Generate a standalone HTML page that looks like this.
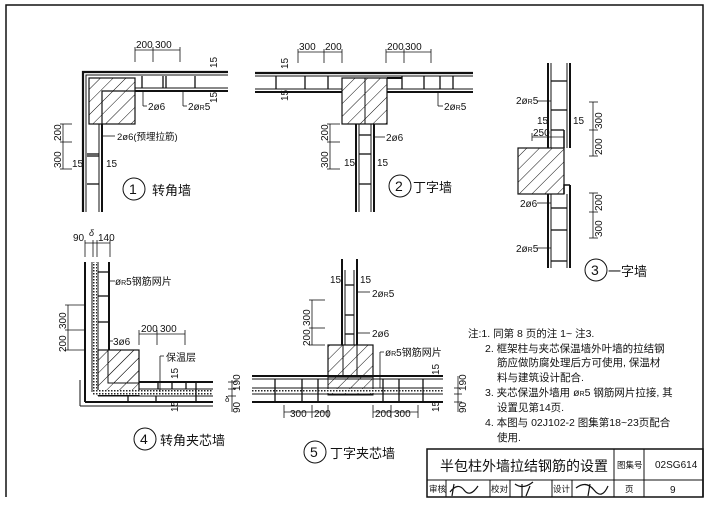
<!DOCTYPE html>
<html><head><meta charset="utf-8"><style>
html,body{margin:0;padding:0;background:#fff}
svg{display:block}
text{font-family:"Liberation Sans","Noto Sans CJK SC",sans-serif;fill:#111}
</style></head><body>
<svg width="712" height="505" viewBox="0 0 712 505" xmlns="http://www.w3.org/2000/svg">
<defs>
<pattern id="h" width="9" height="9" patternUnits="userSpaceOnUse" patternTransform="rotate(45)">
<line x1="0" y1="0" x2="0" y2="9" stroke="#111" stroke-width="1"/></pattern>
<pattern id="ins" width="3" height="3" patternUnits="userSpaceOnUse"><rect width="3" height="3" fill="#fff"/><rect width="1.5" height="1.5" fill="#222"/></pattern>
</defs>
<rect x="0" y="0" width="712" height="505" fill="#fff"/>
<g fill="none" stroke="#111" stroke-width="1">
<polyline points="6,497 6,5 703,5 703,497" stroke-width="1.5"/>
</g>

<!-- ===== Diagram 1 ===== -->
<g stroke="#111" fill="none">
<rect x="89" y="78" width="46" height="46" fill="url(#h)"/>
<rect x="89" y="78" width="46" height="46" stroke-width="1.2"/>
<path d="M102,124 V91 H135" stroke-width="1.2"/>
<path d="M83,212 V72 H228" stroke-width="2.2"/>
<path d="M86,212 V75 H228" stroke-width="1"/>
<path d="M135,91 H228" stroke-width="2"/>
<path d="M102,124 V212" stroke-width="2"/>
<path d="M99,124 V212" stroke-width="1"/>
<path d="M135,88 H228" stroke-width="1"/>
<g stroke-width="1.3">
<line x1="142" y1="76" x2="142" y2="88"/><line x1="163" y1="76" x2="163" y2="88"/><line x1="166" y1="76" x2="166" y2="88"/><line x1="195" y1="76" x2="195" y2="88"/>
<line x1="87" y1="154" x2="99" y2="154"/><line x1="87" y1="156" x2="99" y2="156"/><line x1="87" y1="184" x2="99" y2="184"/>
</g>
<g stroke-width="0.8">
<line x1="135" y1="50" x2="180" y2="50"/><line x1="135" y1="47" x2="135" y2="62"/><line x1="153" y1="47" x2="153" y2="62"/><line x1="180" y1="47" x2="180" y2="62"/>
<line x1="63" y1="124" x2="63" y2="169"/><line x1="60" y1="124" x2="72" y2="124"/><line x1="60" y1="142" x2="72" y2="142"/><line x1="60" y1="169" x2="72" y2="169"/>
<line x1="143" y1="91" x2="143" y2="106"/><line x1="143" y1="106" x2="147" y2="106"/>
<line x1="183" y1="91" x2="183" y2="106"/><line x1="183" y1="106" x2="187" y2="106"/>
<line x1="102" y1="136" x2="115" y2="136"/>
</g>
</g>
<g font-size="10">
<text x="136" y="48">200</text><text x="155" y="48">300</text>
<text x="148" y="110">2ø6</text><text x="188" y="110">2ø<tspan font-size="7">R</tspan>5</text>
<text x="117" y="140" font-size="9.5">2ø6(预埋拉筋)</text>
<text x="72" y="167">15</text><text x="106" y="167">15</text>
<text transform="translate(217,68) rotate(-90)">15</text>
<text transform="translate(217,103) rotate(-90)">15</text>
<text transform="translate(61,141) rotate(-90)">200</text>
<text transform="translate(61,168) rotate(-90)">300</text>
</g>
<circle cx="134" cy="189" r="11" fill="none" stroke="#111"/>
<text x="129" y="194" font-size="14" font-family="Liberation Serif,serif">1</text>
<text x="152" y="195" font-size="13">转角墙</text>

<!-- ===== Diagram 2 ===== -->
<g stroke="#111" fill="none">
<rect x="342" y="78" width="45" height="46" fill="url(#h)"/>
<rect x="342" y="78" width="45" height="46" stroke-width="1.2"/>
<line x1="365" y1="78" x2="365" y2="124"/>
<line x1="255" y1="73" x2="473" y2="73" stroke-width="2.2"/>
<line x1="255" y1="76" x2="473" y2="76"/>
<line x1="255" y1="92" x2="342" y2="92" stroke-width="2"/><line x1="255" y1="89" x2="342" y2="89"/>
<line x1="387" y1="92" x2="473" y2="92" stroke-width="2"/><line x1="387" y1="89" x2="473" y2="89"/>
<line x1="387" y1="78" x2="402" y2="78" stroke-width="2"/>
<line x1="356" y1="124" x2="356" y2="212" stroke-width="2"/><line x1="359" y1="124" x2="359" y2="212"/>
<line x1="374" y1="124" x2="374" y2="212" stroke-width="2"/><line x1="371" y1="124" x2="371" y2="212"/>
<g stroke-width="1.3">
<line x1="276" y1="76" x2="276" y2="89"/><line x1="305" y1="76" x2="305" y2="89"/><line x1="328" y1="76" x2="328" y2="89"/>
<line x1="402" y1="76" x2="402" y2="89"/><line x1="424" y1="76" x2="424" y2="89"/><line x1="440" y1="76" x2="440" y2="89"/><line x1="453" y1="76" x2="453" y2="89"/>
<line x1="359" y1="135" x2="371" y2="135"/><line x1="359" y1="154" x2="371" y2="154"/><line x1="359" y1="184" x2="371" y2="184"/>
</g>
<g stroke-width="0.8">
<line x1="298" y1="52" x2="342" y2="52"/><line x1="298" y1="49" x2="298" y2="63"/><line x1="324" y1="49" x2="324" y2="63"/><line x1="342" y1="49" x2="342" y2="63"/>
<line x1="386" y1="52" x2="431" y2="52"/><line x1="386" y1="49" x2="386" y2="63"/><line x1="404" y1="49" x2="404" y2="63"/><line x1="431" y1="49" x2="431" y2="63"/>
<line x1="330" y1="124" x2="330" y2="169"/><line x1="327" y1="124" x2="340" y2="124"/><line x1="327" y1="142" x2="340" y2="142"/><line x1="327" y1="169" x2="340" y2="169"/>
<line x1="438" y1="92" x2="438" y2="106"/><line x1="438" y1="106" x2="443" y2="106"/>
<line x1="374" y1="137" x2="385" y2="137"/>
</g>
</g>
<g font-size="10">
<text x="299" y="50">300</text><text x="325" y="50">200</text>
<text x="387" y="50">200</text><text x="405" y="50">300</text>
<text x="444" y="110">2ø<tspan font-size="7">R</tspan>5</text>
<text x="386" y="141">2ø6</text>
<text x="344" y="166">15</text><text x="377" y="166">15</text>
<text transform="translate(288,69) rotate(-90)">15</text>
<text transform="translate(288,101) rotate(-90)">15</text>
<text transform="translate(328,141) rotate(-90)">200</text>
<text transform="translate(328,168) rotate(-90)">300</text>
</g>
<circle cx="400" cy="186" r="11" fill="none" stroke="#111"/>
<text x="395" y="191" font-size="14" font-family="Liberation Serif,serif">2</text>
<text x="413" y="192" font-size="13">丁字墙</text>

<!-- ===== Diagram 3 ===== -->
<g stroke="#111" fill="none">
<rect x="518" y="148" width="46" height="46" fill="url(#h)"/>
<rect x="518" y="148" width="46" height="46" stroke-width="1.2"/>
<line x1="548" y1="63" x2="548" y2="148" stroke-width="2"/><line x1="551" y1="63" x2="551" y2="148"/>
<line x1="570" y1="63" x2="570" y2="148" stroke-width="2"/><line x1="567" y1="63" x2="567" y2="148"/>
<line x1="548" y1="194" x2="548" y2="268" stroke-width="2"/><line x1="551" y1="194" x2="551" y2="268"/>
<line x1="570" y1="185" x2="570" y2="268" stroke-width="2"/><line x1="567" y1="194" x2="567" y2="268"/>
<path d="M564,148 V130 M564,194 V185 H570" stroke-width="1.5"/>
<g stroke-width="1.3">
<line x1="551" y1="81" x2="567" y2="81"/><line x1="551" y1="110" x2="567" y2="110"/><line x1="551" y1="130" x2="564" y2="130"/>
<line x1="551" y1="208" x2="567" y2="208"/><line x1="551" y1="230" x2="567" y2="230"/><line x1="551" y1="261" x2="567" y2="261"/>
</g>
<g stroke-width="0.8">
<line x1="593" y1="102" x2="593" y2="156"/><line x1="589" y1="102" x2="598" y2="102"/><line x1="589" y1="130" x2="598" y2="130"/><line x1="589" y1="156" x2="598" y2="156"/>
<line x1="593" y1="193" x2="593" y2="238"/><line x1="589" y1="193" x2="598" y2="193"/><line x1="589" y1="212" x2="598" y2="212"/><line x1="589" y1="238" x2="598" y2="238"/>
<line x1="532" y1="137" x2="564" y2="137"/><line x1="532" y1="133" x2="532" y2="141"/>
<line x1="537" y1="101" x2="551" y2="101"/><line x1="537" y1="203" x2="551" y2="203"/><line x1="537" y1="248" x2="551" y2="248"/>
</g>
</g>
<g font-size="10">
<text x="516" y="104">2ø<tspan font-size="7">R</tspan>5</text>
<text x="537" y="124">15</text><text x="573" y="124">15</text>
<text x="533" y="136">250</text>
<text x="520" y="207">2ø6</text>
<text x="516" y="252">2ø<tspan font-size="7">R</tspan>5</text>
<text transform="translate(602,129) rotate(-90)">300</text>
<text transform="translate(602,155) rotate(-90)">200</text>
<text transform="translate(602,211) rotate(-90)">200</text>
<text transform="translate(602,237) rotate(-90)">300</text>
</g>
<circle cx="596" cy="270" r="11" fill="none" stroke="#111"/>
<text x="591" y="275" font-size="14" font-family="Liberation Serif,serif">3</text>
<text x="608" y="276" font-size="13">一字墙</text>

<!-- ===== Diagram 4 ===== -->
<g stroke="#111" fill="none">
<rect x="108" y="350" width="31" height="33" fill="url(#h)"/>
<rect x="98" y="350" width="41" height="45" fill="url(#h)" stroke-width="1.2"/>
<rect x="92" y="262" width="5" height="133" fill="url(#ins)" stroke="none"/>
<rect x="92" y="390" width="121" height="5" fill="url(#ins)" stroke="none"/>
<line x1="85" y1="262" x2="85" y2="402" stroke-width="2"/>
<line x1="92" y1="262" x2="92" y2="392"/><line x1="98" y1="262" x2="98" y2="350"/>
<line x1="109" y1="262" x2="109" y2="350" stroke-width="2"/>
<line x1="85" y1="402" x2="213" y2="402" stroke-width="2"/>
<line x1="98" y1="396" x2="213" y2="396"/><line x1="139" y1="389" x2="213" y2="389"/>
<line x1="139" y1="382" x2="213" y2="382" stroke-width="2"/>
<line x1="80" y1="406" x2="213" y2="406"/><line x1="80" y1="380" x2="80" y2="406"/>
<g stroke-width="1.3">
<line x1="98" y1="272" x2="109" y2="272"/><line x1="98" y1="296" x2="109" y2="296"/><line x1="98" y1="322" x2="109" y2="322"/>
<line x1="158" y1="382" x2="158" y2="389"/><line x1="172" y1="382" x2="172" y2="389"/><line x1="186" y1="382" x2="186" y2="389"/><line x1="196" y1="382" x2="196" y2="402"/>
<line x1="128" y1="396" x2="128" y2="402"/><line x1="156" y1="396" x2="156" y2="402"/>
</g>
<g stroke-width="0.8">
<line x1="85" y1="243" x2="110" y2="243"/><line x1="85" y1="240" x2="85" y2="257"/><line x1="93" y1="240" x2="93" y2="257"/><line x1="97" y1="240" x2="97" y2="257"/><line x1="110" y1="240" x2="110" y2="257"/>
<line x1="68" y1="305" x2="68" y2="350"/><line x1="65" y1="305" x2="85" y2="305"/><line x1="65" y1="330" x2="85" y2="330"/><line x1="65" y1="350" x2="85" y2="350"/>
<line x1="139" y1="334" x2="185" y2="334"/><line x1="139" y1="330" x2="139" y2="345"/><line x1="157" y1="330" x2="157" y2="345"/><line x1="185" y1="330" x2="185" y2="345"/>
<line x1="109" y1="281" x2="115" y2="281"/><line x1="109" y1="341" x2="113" y2="341"/>
<path d="M160,356 H164 M160,356 V392"/>
<line x1="232" y1="380" x2="232" y2="412"/><line x1="228" y1="382" x2="236" y2="382"/><line x1="228" y1="389" x2="236" y2="389"/><line x1="228" y1="396" x2="236" y2="396"/>
</g>
</g>
<g font-size="10">
<text x="73" y="241">90</text><text x="89" y="236" font-size="9" font-style="italic">δ</text><text x="98" y="241">140</text>
<text x="115" y="285">ø<tspan font-size="7">R</tspan>5钢筋网片</text>
<text x="113" y="345">3ø6</text>
<text x="141" y="332">200</text><text x="160" y="332">300</text>
<text x="166" y="361">保温层</text>
<text transform="translate(66,329) rotate(-90)">300</text>
<text transform="translate(66,352) rotate(-90)">200</text>
<text transform="translate(178,379) rotate(-90)">15</text>
<text transform="translate(178,412) rotate(-90)">15</text>
<text transform="translate(240,391) rotate(-90)">190</text>
<text transform="translate(240,413) rotate(-90)">90</text>
<text x="225" y="402" font-size="8">δ</text>
</g>
<circle cx="145" cy="439" r="11" fill="none" stroke="#111"/>
<text x="140" y="444" font-size="14" font-family="Liberation Serif,serif">4</text>
<text x="160" y="445" font-size="13">转角夹芯墙</text>

<!-- ===== Diagram 5 ===== -->
<g stroke="#111" fill="none">
<rect x="328" y="345" width="45" height="50" fill="url(#h)"/>
<rect x="328" y="345" width="45" height="32" stroke-width="1.2"/>
<line x1="343" y1="345" x2="343" y2="377"/><line x1="357" y1="345" x2="357" y2="377"/>
<rect x="252" y="389" width="191" height="4" fill="url(#ins)" stroke="none"/>
<line x1="342" y1="259" x2="342" y2="345" stroke-width="2"/><line x1="345" y1="270" x2="345" y2="345"/>
<line x1="357" y1="259" x2="357" y2="345" stroke-width="2"/><line x1="354" y1="270" x2="354" y2="345"/>
<line x1="252" y1="376" x2="443" y2="376" stroke-width="2"/><line x1="252" y1="379" x2="443" y2="379"/>
<line x1="252" y1="388" x2="443" y2="388"/><line x1="252" y1="394" x2="443" y2="394"/>
<line x1="252" y1="402" x2="443" y2="402" stroke-width="2"/>
<g stroke-width="1.3">
<line x1="345" y1="285" x2="354" y2="285"/><line x1="345" y1="315" x2="354" y2="315"/><line x1="345" y1="334" x2="354" y2="334"/>
<line x1="275" y1="379" x2="275" y2="402"/><line x1="302" y1="379" x2="302" y2="402"/><line x1="318" y1="379" x2="318" y2="402"/>
<line x1="383" y1="379" x2="383" y2="402"/><line x1="399" y1="379" x2="399" y2="402"/><line x1="423" y1="379" x2="423" y2="402"/>
</g>
<g stroke-width="0.8">
<line x1="284" y1="412" x2="328" y2="412"/><line x1="284" y1="405" x2="284" y2="418"/><line x1="312" y1="405" x2="312" y2="418"/><line x1="328" y1="405" x2="328" y2="418"/>
<line x1="373" y1="412" x2="418" y2="412"/><line x1="373" y1="405" x2="373" y2="418"/><line x1="391" y1="405" x2="391" y2="418"/><line x1="418" y1="405" x2="418" y2="418"/>
<line x1="312" y1="300" x2="312" y2="345"/><line x1="309" y1="300" x2="325" y2="300"/><line x1="309" y1="328" x2="325" y2="328"/><line x1="309" y1="345" x2="325" y2="345"/>
<line x1="357" y1="292" x2="370" y2="292"/><line x1="357" y1="333" x2="370" y2="333"/>
<path d="M380,352 H384 M380,352 V388"/>
<line x1="458" y1="376" x2="458" y2="412"/><line x1="454" y1="388" x2="462" y2="388"/><line x1="454" y1="394" x2="462" y2="394"/><line x1="454" y1="402" x2="462" y2="402"/>
</g>
</g>
<g font-size="10">
<text x="330" y="283">15</text><text x="360" y="283">15</text>
<text x="372" y="297">2ø<tspan font-size="7">R</tspan>5</text>
<text x="372" y="337">2ø6</text>
<text x="385" y="356">ø<tspan font-size="7">R</tspan>5钢筋网片</text>
<text x="290" y="417">300</text><text x="314" y="417">200</text>
<text x="375" y="417">200</text><text x="394" y="417">300</text>
<text transform="translate(310,326) rotate(-90)">300</text>
<text transform="translate(310,346) rotate(-90)">200</text>
<text transform="translate(439,375) rotate(-90)">15</text>
<text transform="translate(439,412) rotate(-90)">15</text>
<text transform="translate(466,391) rotate(-90)">190</text>
<text transform="translate(466,413) rotate(-90)">90</text>
</g>
<circle cx="315" cy="452" r="11" fill="none" stroke="#111"/>
<text x="310" y="457" font-size="14" font-family="Liberation Serif,serif">5</text>
<text x="330" y="458" font-size="13">丁字夹芯墙</text>

<!-- ===== Notes ===== -->
<g font-size="10.5">
<text x="468" y="337">注:1. 同第 8 页的注 1~ 注3.</text>
<text x="485" y="352">2. 框架柱与夹芯保温墙外叶墙的拉结钢</text>
<text x="497" y="366">筋应做防腐处理后方可使用, 保温材</text>
<text x="497" y="381">料与建筑设计配合.</text>
<text x="485" y="396">3. 夹芯保温外墙用 ø<tspan font-size="7">R</tspan>5 钢筋网片拉接, 其</text>
<text x="497" y="411">设置见第14页.</text>
<text x="485" y="426">4. 本图与 02J102-2 图集第18~23页配合</text>
<text x="497" y="441">使用.</text>
</g>

<!-- ===== Title block ===== -->
<g stroke="#111" fill="none">
<rect x="427" y="449" width="276" height="48" stroke-width="1.5"/>
<line x1="427" y1="480" x2="703" y2="480"/>
<line x1="614" y1="449" x2="614" y2="497"/>
<line x1="644" y1="449" x2="644" y2="497"/>
<line x1="446" y1="480" x2="446" y2="497"/><line x1="490" y1="480" x2="490" y2="497"/>
<line x1="510" y1="480" x2="510" y2="497"/><line x1="552" y1="480" x2="552" y2="497"/>
<line x1="572" y1="480" x2="572" y2="497"/>
<path d="M450,492 q8,-10 14,-2 t14,-4 M454,484 l-2,12 M515,484 q8,6 18,-2 M522,484 l0,13 M530,486 l-4,10 M576,488 q10,-8 18,2 t14,-4 M590,484 l-2,12" stroke-width="1.2"/>
</g>
<text x="440" y="471" font-size="14">半包柱外墙拉结钢筋的设置</text>
<text x="617" y="468" font-size="8.5">图集号</text>
<text x="655" y="468" font-size="10">02SG614</text>
<g font-size="8.5">
<text x="429" y="492">审核</text><text x="491" y="492">校对</text><text x="553" y="492">设计</text>
<text x="625" y="492">页</text>
</g>
<text x="670" y="493" font-size="10">9</text>
</svg>
</body></html>
